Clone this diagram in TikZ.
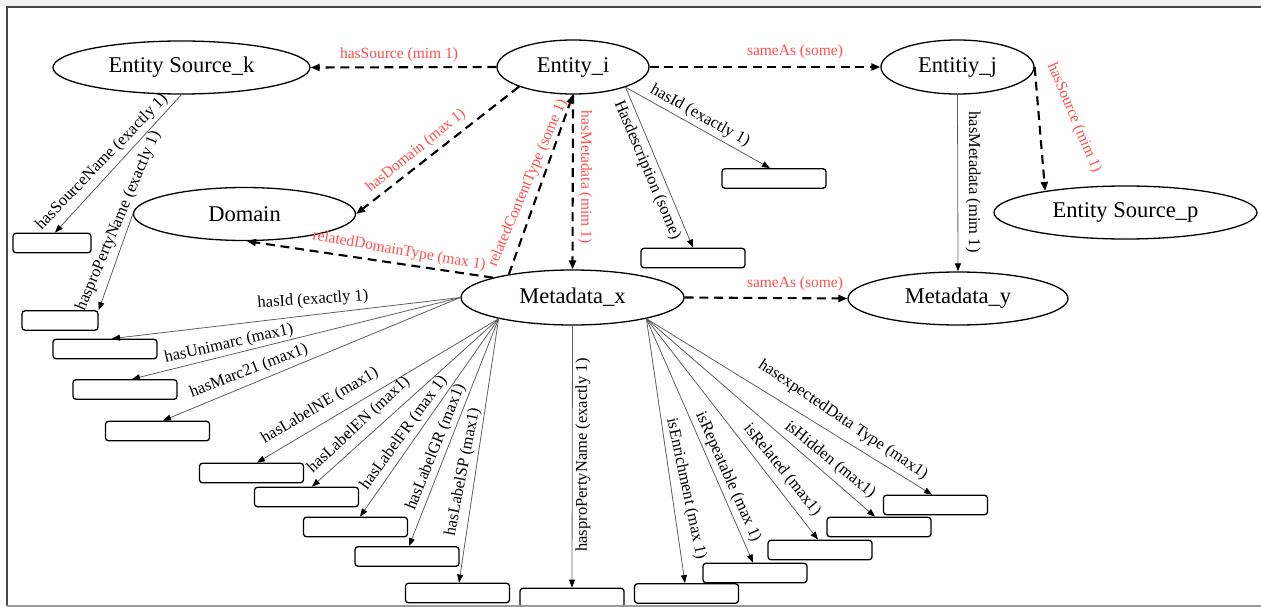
\documentclass[tikz,border=0pt]{standalone}
\usepackage{fontspec}
\setmainfont{Liberation Serif}
\usetikzlibrary{shapes.geometric,arrows.meta}
\definecolor{relred}{RGB}{255,77,77}
\definecolor{edgegray}{RGB}{95,95,95}
\definecolor{framegray}{RGB}{70,70,70}

\begin{document}
\begin{tikzpicture}[x=1pt,y=-1pt,
  concept/.style={ellipse,draw=black,line width=1.3pt,fill=white,inner sep=0pt,
    font=\fontsize{22.5}{24}\selectfont},
  slot/.style={draw=black,line width=1.3pt,rounded corners=3pt,fill=white,
    minimum width=104pt,minimum height=19.5pt,inner sep=0pt},
  prop/.style={draw=edgegray,line width=0.8pt,-{Triangle[length=8pt,width=6pt,color=black]}},
  rel/.style={draw=black,line width=2.1pt,dash pattern=on 9pt off 5.7pt,
    -{Triangle[length=9pt,width=7pt]}},
  lblk/.style={font=\fontsize{16.5}{18}\selectfont,inner sep=0pt},
  lred/.style={font=\fontsize{15.5}{17}\selectfont,text=relred,inner sep=0pt}]

\useasboundingbox (0,0) rectangle (1261,607);
\fill[black!5] (0,0) rectangle (1261,6);

% concepts
\node[concept,minimum width=257pt,minimum height=53pt] (esk) at (181.5,67.5) {Entity Source\_k};
\node[concept,minimum width=152pt,minimum height=54pt] (ei) at (573,67) {Entity\_i};
\node[concept,minimum width=153pt,minimum height=54pt] (ej) at (957.5,67) {Entitiy\_j};
\node[concept,minimum width=263pt,minimum height=53pt] (esp) at (1125.5,212.5) {Entity Source\_p};
\node[concept,minimum width=222pt,minimum height=53pt] (dom) at (244.5,214) {Domain};
\node[concept,minimum width=223pt,minimum height=55pt] (mx) at (572.5,297.5) {Metadata\_x};
\node[concept,minimum width=220pt,minimum height=53pt] (my) at (958,298.5) {Metadata\_y};

% value slots
\node[slot,minimum width=78pt] (b1) at (52,243) {};
\node[slot,minimum width=76pt] (bA) at (60,320.5) {};
\node[slot] (bB) at (105,349) {};
\node[slot] (bC) at (125,389.5) {};
\node[slot] (bD) at (157.5,431) {};
\node[slot] (bE) at (251.5,473) {};
\node[slot] (bF) at (306.5,497) {};
\node[slot] (bG) at (355.5,527) {};
\node[slot] (bH) at (407,556.5) {};
\node[slot] (bI) at (457.5,593) {};
\node[slot] (bJ) at (572,598) {};
\node[slot] (bK) at (686.5,593.5) {};
\node[slot] (bL) at (755,573) {};
\node[slot] (bM) at (820,550) {};
\node[slot] (bN) at (879,527) {};
\node[slot] (bO) at (935.5,505) {};
\node[slot] (bP) at (774,178.5) {};
\node[slot] (bQ) at (693,258) {};

% object relations (dashed)
\draw[rel] (ei.west) -- (esk.east);
\draw[rel] (ei.east) -- (ej.west);
\draw[rel] (ej.east) -- (esp.165);
\draw[rel] (ei.200) -- (dom.east);
\draw[rel] (mx.166) -- (dom.-85);
\draw[rel] (ei.south) -- (mx.north);
\draw[rel] (mx.160) -- (ei.south);
\draw[rel] (mx.east) -- (my.west);

% data properties (solid)
\draw[prop] (ej.south) -- (my.north);
\draw[prop] (esk.south) -- ([xshift=3pt]b1.north);
\draw[prop] (dom.west) -- (bA.north east);
\draw[prop] (ei.-21) -- ([xshift=-4pt]bP.north);
\draw[prop] (ei.-21) -- (bQ.north);
\draw[prop] (mx.west) -- ([xshift=7pt]bB.north);
\draw[prop] (mx.west) -- ([xshift=7pt]bC.north);
\draw[prop] (mx.west) -- ([xshift=5.5pt]bD.north);
\draw[prop] (mx.196) -- ([xshift=5.5pt]bE.north);
\draw[prop] (mx.196) -- ([xshift=5.5pt]bF.north);
\draw[prop] (mx.196) -- ([xshift=4.5pt]bG.north);
\draw[prop] (mx.196) -- ([xshift=2pt]bH.north);
\draw[prop] (mx.196) -- ([xshift=1.5pt]bI.north);
\draw[prop] (mx.south) -- (bJ.north);
\draw[prop] (mx.-16) -- ([xshift=-1.5pt]bK.north);
\draw[prop] (mx.-16) -- ([xshift=-2pt]bL.north);
\draw[prop] (mx.-16) -- ([xshift=-2pt]bM.north);
\draw[prop] (mx.-16) -- ([xshift=-4pt]bN.north);
\draw[prop] (mx.-16) -- ([xshift=-3.5pt]bO.north);

% relation labels
\node[lred] (t1) at (399,55) {hasSource (mim 1)};
\node[lred] (t2) at (795,52) {sameAs (some)};
\node[lred,rotate=-67] (t3) at (1074,118) {hasSource (mim 1)};
\node[lred,rotate=39] (t4) at (416,151) {hasDomain (max 1)};
\node[lred,rotate=-10] (t5) at (399,251) {relatedDomainType (max 1)};
\node[lred,rotate=67] (t6) at (528,183) {relatedContentType (some 1)};
\node[lred,rotate=-90] (t7) at (585,177) {hasMetadata (mim 1)};
\node[lred] (t8) at (795,284) {sameAs (some)};

% property labels
\node[lblk,rotate=-90] (p1) at (973,182) {hasMetadata (mim 1)};
\node[lblk,rotate=-29] (p2) at (700,116) {hasId (exactly 1)};
\node[lblk,rotate=-67] (p3) at (647,170) {Hasdescription (some)};
\node[lblk,rotate=46] (p4) at (102,162) {hasSourceName (exactly 1)};
\node[lblk,rotate=67] (p5) at (118.5,221) {hasproPertyName (exactly 1)};
\node[lblk,rotate=4] (p6) at (313,300) {hasId (exactly 1)};
\node[lblk,rotate=13] (p7) at (229,344) {hasUnimarc (max1)};
\node[lblk,rotate=21] (p8) at (249,371) {hasMarc21 (max1)};
\node[lblk,rotate=31] (p9) at (320,406) {hasLabelNE (max1)};
\node[lblk,rotate=43] (p10) at (359,425) {hasLabelEN (max1)};
\node[lblk,rotate=54] (p11) at (404,433) {hasLabelFR (max 1)};
\node[lblk,rotate=68] (p12) at (436,447) {hasLabelGR (max1)};
\node[lblk,rotate=79] (p13) at (463,472) {hasLabelSP (max1)};
\node[lblk,rotate=90] (p14) at (583,455) {hasproPertyName (exactly 1)};
\node[lblk,rotate=-78] (p15) at (686,489) {isEnrichment (max 1)};
\node[lblk,rotate=-66] (p16) at (728,477) {isRepeatable (max 1)};
\node[lblk,rotate=-51] (p17) at (782,470) {isRelated (max1)};
\node[lblk,rotate=-39] (p18) at (830,460) {isHidden (max1)};
\node[lblk,rotate=-34] (p19) at (843,420) {hasexpectedData Type (max1)};

% frame
\draw[framegray,line width=2pt] (6.5,606) -- (6.5,7) -- (1261,7);
\draw[black!40,line width=1.5pt] (6.5,606) -- (1261,606);
\end{tikzpicture}
\end{document}
